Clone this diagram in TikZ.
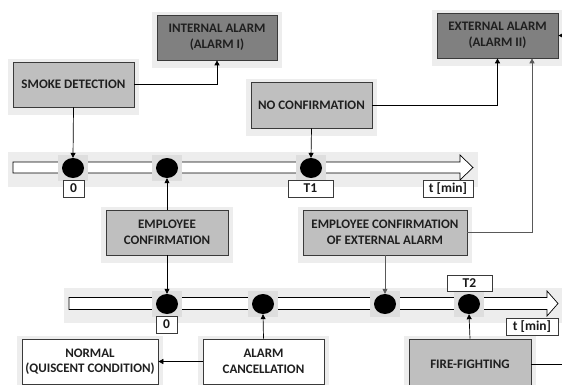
\documentclass[tikz,border=0pt]{standalone}
\usepackage{fontspec}
\setmainfont{Carlito}
\usetikzlibrary{shapes.geometric,arrows.meta,calc}
\definecolor{boxlight}{HTML}{BFBFBF}
\definecolor{boxdark}{HTML}{808080}
\definecolor{halo}{HTML}{EDEDED}
\definecolor{dothalo}{HTML}{C8C8C8}
\definecolor{edge}{HTML}{3A3A3A}
\tikzset{
  txt/.style={font=\fontsize{13}{15.5}\selectfont\bfseries, align=center, text=black!88},
  box/.style={txt, draw=edge, line width=0.7pt, inner sep=2pt},
  lightbox/.style={box, fill=boxlight},
  darkbox/.style={box, fill=boxdark},
  whitebox/.style={box, fill=white},
  tag/.style={draw=edge, fill=white, line width=0.6pt, font=\fontsize{13.5}{15}\selectfont\bfseries, text=black!90, inner sep=0pt},
  event/.style={ellipse, fill=black, minimum width=22pt, minimum height=20pt, inner sep=0pt},
  arr/.style={-{Triangle[length=5pt,width=5pt]}, line width=0.7pt, draw=black},
  grayarr/.style={arr, draw=black!65},
  plain/.style={line width=0.7pt},
}
\newcommand{\halobox}[1]{%
  \fill[halo] ($(#1.north west)+(-5pt,3pt)$) rectangle ($(#1.south east)+(5pt,-8pt)$);}
\newcommand{\dothalo}[1]{%
  \fill[dothalo!60] ($(#1)+(-15pt,13pt)$) rectangle ($(#1)+(15pt,-13pt)$);}
\begin{document}
\begin{tikzpicture}[x=1pt,y=-1pt]
\useasboundingbox (0,0) rectangle (562,385);
\clip (0,0) rectangle (562,385);

% ---- positions of the blocks ----
\coordinate (c-smoke) at (73.5,84.5);
\coordinate (c-intal) at (217,37.5);
\coordinate (c-nocon) at (311.5,105);
\coordinate (c-extal) at (497.5,35.5);
\coordinate (c-empc) at (167,232.5);
\coordinate (c-empx) at (385,232.5);
\coordinate (c-normal) at (90,361.5);
\coordinate (c-cancel) at (263.5,361.5);
\coordinate (c-fire) at (470,364);

% glow behind the blocks
\begin{scope}
\path (c-smoke) node[minimum width=121pt, minimum height=45pt] (h1) {};
\path (c-intal) node[minimum width=120pt, minimum height=45pt] (h2) {};
\path (c-nocon) node[minimum width=121pt, minimum height=46pt] (h3) {};
\path (c-extal) node[minimum width=121pt, minimum height=45pt] (h4) {};
\path (c-empc) node[minimum width=122pt, minimum height=45pt] (h5) {};
\path (c-empx) node[minimum width=164pt, minimum height=45pt] (h6) {};
\path (c-normal) node[minimum width=136pt, minimum height=45pt] (h7) {};
\path (c-cancel) node[minimum width=121pt, minimum height=45pt] (h8) {};
\path (c-fire) node[minimum width=122pt, minimum height=50pt] (h9) {};
\foreach \h in {h1,h2,h3,h4,h5,h6,h7,h8,h9} {\halobox{\h}}
\end{scope}

% glow behind the two time axes
\fill[halo] (8,152) rectangle (478,187);
\fill[halo] (64,288) rectangle (562,323);

% ---- time axes ----
\draw[plain, fill=white] (13,162) -- (460,162) -- (460,155) -- (473,167.5)
  -- (460,180) -- (460,173) -- (13,173) -- cycle;
\draw[plain, fill=white] (69,297.5) -- (547,297.5) -- (547,291) -- (558,303.5)
  -- (547,316) -- (547,309.5) -- (69,309.5) -- cycle;

% event markers
\coordinate (e1) at (73,168);
\coordinate (e2) at (167,168);
\coordinate (e3) at (311,168);
\coordinate (f1) at (167,304);
\coordinate (f2) at (263,304);
\coordinate (f3) at (385,304);
\coordinate (f4) at (469,304);
\foreach \e in {e1,e2,e3,f1,f2,f3,f4} {\dothalo{\e}}
\foreach \e in {e1,e2,e3,f1,f2,f3,f4} {\node[event] (d\e) at (\e) {};}

% axis tags
\node[tag, minimum width=21pt, minimum height=17pt] (z1) at (73.5,188.5) {0};
\node[tag, minimum width=45pt, minimum height=17pt] (t1) at (310.5,188.5) {T1};
\node[tag, minimum width=50pt, minimum height=17pt] (u1) at (448,188.5) {t [min]};
\node[tag, minimum width=21pt, minimum height=17pt] (z2) at (166.5,324.5) {0};
\node[tag, minimum width=45pt, minimum height=16pt] (t2) at (469.5,283) {T2};
\node[tag, minimum width=52pt, minimum height=17pt] (u2) at (532,326.5) {t [min]};

% ---- blocks ----
\node[lightbox, minimum width=121pt, minimum height=45pt] (smoke) at (c-smoke) {SMOKE DETECTION};
\node[darkbox, minimum width=120pt, minimum height=45pt] (intal) at (c-intal) {INTERNAL ALARM\\(ALARM I)};
\node[lightbox, minimum width=121pt, minimum height=46pt] (nocon) at (c-nocon) {NO CONFIRMATION};
\node[darkbox, minimum width=121pt, minimum height=45pt] (extal) at (c-extal) {EXTERNAL ALARM\\(ALARM II)};
\node[lightbox, minimum width=122pt, minimum height=45pt] (empc) at (c-empc) {EMPLOYEE\\CONFIRMATION};
\node[lightbox, minimum width=164pt, minimum height=45pt] (empx) at (c-empx) {EMPLOYEE CONFIRMATION\\OF EXTERNAL ALARM};
\node[whitebox, minimum width=136pt, minimum height=45pt] (normal) at (c-normal) {NORMAL\\(QUISCENT CONDITION)};
\node[whitebox, minimum width=121pt, minimum height=45pt] (cancel) at (c-cancel) {ALARM\\CANCELLATION};
\node[lightbox, minimum width=122pt, minimum height=50pt, text depth=0pt] (fire) at (c-fire) {FIRE-FIGHTING};

% free ends beyond the right border
\coordinate (inR) at (580,35.5);
\coordinate (outR) at (580,364);

% ---- connectors ----
\draw[arr] (smoke.east) -| (intal.south);
\draw[arr] (smoke.south) -- (de1.north);
\draw[arr] (nocon.east) -| (extal.south);
\draw[arr] (nocon.south) -- (de3.north);
\draw[arr] (empc.north) -- (de2.south);
\draw[arr] (empc.south) -- (df1.north);
\draw[grayarr] (empx.east) -| ([xshift=34.5pt]extal.south);
\draw[grayarr] (empx.south) -- (df3.north);
\draw[arr] (cancel.north) -- (df2.south);
\draw[arr] (cancel.west) -- (normal.east);
\draw[arr] (fire.north) -- (df4.south);
\draw[plain] (fire.east) -- (outR);
\draw[arr] (inR) -- (extal.east);
\end{tikzpicture}
\end{document}
